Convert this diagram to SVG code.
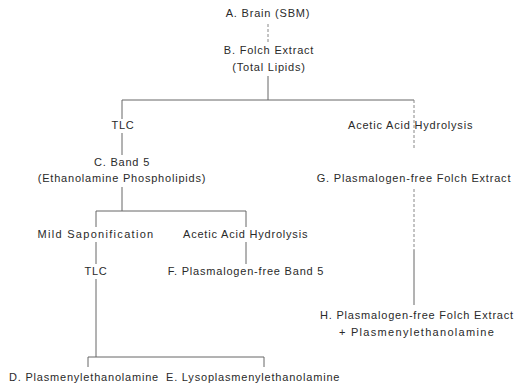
<svg xmlns="http://www.w3.org/2000/svg" width="530" height="389" viewBox="0 0 530 389">
<style>
text{font-family:"Liberation Sans",Arial,sans-serif;font-size:11px;letter-spacing:0.8px;fill:#2a2a2a}
.m{text-anchor:middle}
.w{letter-spacing:1.3px}
line{stroke:#666;stroke-width:1;fill:none}
.d{stroke-dasharray:3 2;stroke:#888}
</style>
<rect width="530" height="389" fill="#fff"/>
<g id="connectors">
<line class="d" x1="268" y1="24" x2="268" y2="43"/>
<line x1="268" y1="76" x2="268" y2="100"/>
<line x1="122" y1="100" x2="414" y2="100"/>
<line x1="122" y1="100" x2="122" y2="119"/>
<line x1="122" y1="133" x2="122" y2="155"/>
<line class="d" x1="414" y1="100" x2="414" y2="148"/>
<line x1="122" y1="187" x2="122" y2="211"/>
<line x1="96" y1="211" x2="246" y2="211"/>
<line x1="96" y1="211" x2="96" y2="227"/>
<line x1="246" y1="211" x2="246" y2="227"/>
<line x1="96" y1="242" x2="96" y2="264"/>
<line x1="246" y1="242" x2="246" y2="264"/>
<line x1="96" y1="279" x2="96" y2="357"/>
<line x1="88" y1="357" x2="264" y2="357"/>
<line x1="88" y1="357" x2="88" y2="367"/>
<line x1="264" y1="357" x2="264" y2="367"/>
<line class="d" x1="414" y1="189" x2="414" y2="250"/>
<line x1="414" y1="250" x2="414" y2="305"/>
</g>
<g id="nodeA"><text class="m" x="268" y="17">A. Brain (SBM)</text></g>
<g id="nodeB"><text class="m" x="269" y="54">B. Folch Extract</text><text class="m" x="269" y="71">(Total Lipids)</text></g>
<g id="tlc1"><text class="m" x="123" y="129">TLC</text></g>
<g id="acetic1"><text x="348" y="129">Acetic Acid Hydrolysis</text></g>
<g id="nodeC"><text class="m" x="122" y="166">C. Band 5</text><text class="m" x="122" y="182">(Ethanolamine Phospholipids)</text></g>
<g id="nodeG"><text class="m" x="414" y="182">G. Plasmalogen-free Folch Extract</text></g>
<g id="sapon"><text class="m w" x="96" y="238">Mild Saponification</text></g>
<g id="acetic2"><text x="183" y="238">Acetic Acid Hydrolysis</text></g>
<g id="tlc2"><text class="m" x="96" y="275">TLC</text></g>
<g id="nodeF"><text class="m" x="246" y="275">F. Plasmalogen-free Band 5</text></g>
<g id="nodeH"><text class="m" x="417" y="319">H. Plasmalogen-free Folch Extract</text><text class="m w" x="417" y="336">+ Plasmenylethanolamine</text></g>
<g id="nodeD"><text class="m" x="84" y="381">D. Plasmenylethanolamine</text></g>
<g id="nodeE"><text x="166" y="381">E. Lysoplasmenylethanolamine</text></g>
</svg>
